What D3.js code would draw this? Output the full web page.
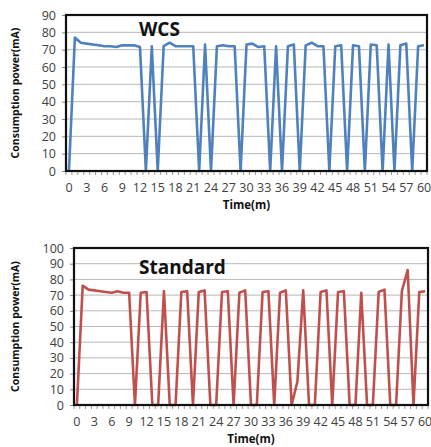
<!DOCTYPE html>
<html>
<head>
<meta charset="utf-8">
<script src="https://cdn.jsdelivr.net/npm/d3@7"></script>
<style>
  body { margin: 0; background: #fff; }
  svg text { font-family: "Open Sans", "Liberation Sans", sans-serif; }
</style>
</head>
<body>
<svg id="chart" width="431" height="447"></svg>
<script>
// minutes 0..60
const minutes = d3.range(0, 61)
const xLabels = d3.range(0, 61, 3)

const wcsValues = [
  0, 77, 74, 73.5, 73, 72.5, 72, 72, 71.5, 72.5, 72.5,
  72.5, 71.5, 0, 72, 0, 72, 74, 72, 72, 72,
  72, 0, 73, 0, 72, 72.5, 72, 72, 0, 73,
  73.5, 71.5, 72, 0, 72, 0, 72, 73, 0, 72.5,
  74, 72, 72, 0, 72, 72.5, 0, 72.5, 72, 0,
  73, 72.5, 0, 73, 0, 72.5, 73.5, 0, 72, 72.5
]

const standardValues = [
  0, 76, 73.5, 73, 72.5, 72, 71.5, 72.5, 71.5, 71.5, 0,
  71.5, 72, 0, 0, 72.5, 0, 0, 72, 72.5, 0,
  72, 73, 0, 0, 72, 72.5, 0, 71.5, 73, 0,
  0, 72, 72.5, 0, 71.5, 73, 0, 15, 73, 0,
  0, 72, 73, 0, 72, 72.5, 0, 0, 71.5, 0,
  0, 72, 73.5, 0, 0, 72.5, 86, 0, 72, 72.5
]

const wcsYTicks = d3.range(0, 91, 10)
const standardYTicks = d3.range(0, 101, 10)

const svg = d3.select("#chart")

function drawPanel(opts) {
  const g = svg.append("g")

  const x = d3.scaleLinear()
    .domain([-0.5, 60.5])
    .range([opts.left, opts.right])
  const y = d3.scaleLinear()
    .domain([0, opts.yMax])
    .range([opts.bottom, opts.top])

  // gridlines
  g.selectAll(".grid")
    .data(opts.yTicks)
    .enter()
    .append("line")
    .attr("x1", opts.left).attr("x2", opts.right)
    .attr("y1", d => y(d)).attr("y2", d => y(d))
    .style("stroke", "#b8b8b8")
    .style("stroke-width", 1)

  // y axis ticks + labels
  const yAxis = d3.axisLeft(y)
    .tickValues(opts.yTicks)
    .tickSize(4)
    .tickPadding(6)
  const ya = g.append("g")
    .attr("transform", `translate(${opts.left},0)`)
    .call(yAxis)
  ya.select(".domain").remove()
  ya.selectAll("line").style("stroke", "#888")
  ya.selectAll("text")
    .style("font-size", "12.5px")
    .style("fill", "#404040")

  // x axis: minor ticks at every category boundary, labels every 3
  g.selectAll(".xtick")
    .data(d3.range(-0.5, 61, 1))
    .enter()
    .append("line")
    .attr("x1", d => x(d)).attr("x2", d => x(d))
    .attr("y1", opts.bottom).attr("y2", opts.bottom + 4)
    .style("stroke", "#999")
    .style("stroke-width", 1)

  g.selectAll(".xlabel")
    .data(xLabels)
    .enter()
    .append("text")
    .attr("x", d => x(d))
    .attr("y", opts.bottom + 21)
    .attr("text-anchor", "middle")
    .style("font-size", "12.5px")
    .style("fill", "#404040")
    .text(d => d)

  // line
  const line = d3.line()
    .x((d, i) => x(minutes[i]))
    .y(d => y(d))
  g.append("path")
    .datum(opts.values)
    .attr("d", line)
    .style("fill", "none")
    .style("stroke", opts.color)
    .style("stroke-width", 2.6)
    .style("stroke-linejoin", "round")

  // plot border
  g.append("rect")
    .attr("x", opts.left).attr("y", opts.top)
    .attr("width", opts.right - opts.left)
    .attr("height", opts.bottom - opts.top)
    .style("fill", "none")
    .style("stroke", "#111")
    .style("stroke-width", 2.2)

  // titles
  g.append("text")
    .attr("x", opts.titleX)
    .attr("y", opts.titleY)
    .style("font-size", "19px")
    .style("font-weight", "bold")
    .style("fill", "#111")
    .text(opts.title)

  g.append("text")
    .attr("x", (opts.left + opts.right) / 2)
    .attr("y", opts.bottom + 38)
    .attr("text-anchor", "middle")
    .style("font-size", "11.5px")
    .style("font-weight", "bold")
    .style("fill", "#111")
    .text("Time(m)")

  g.append("text")
    .attr("transform", `translate(19,${(opts.top + opts.bottom) / 2}) rotate(-90)`)
    .attr("text-anchor", "middle")
    .style("font-size", "10.5px")
    .style("font-weight", "bold")
    .style("fill", "#111")
    .text("Consumption power(mA)")
}

drawPanel({
  values: wcsValues, yTicks: wcsYTicks, yMax: 90,
  left: 66, right: 427, top: 15, bottom: 171,
  color: "#4f81bd", title: "WCS", titleX: 139, titleY: 36
})

drawPanel({
  values: standardValues, yTicks: standardYTicks, yMax: 100,
  left: 74, right: 428, top: 248, bottom: 405,
  color: "#c0504d", title: "Standard", titleX: 139, titleY: 274
})
</script>
</body>
</html>
